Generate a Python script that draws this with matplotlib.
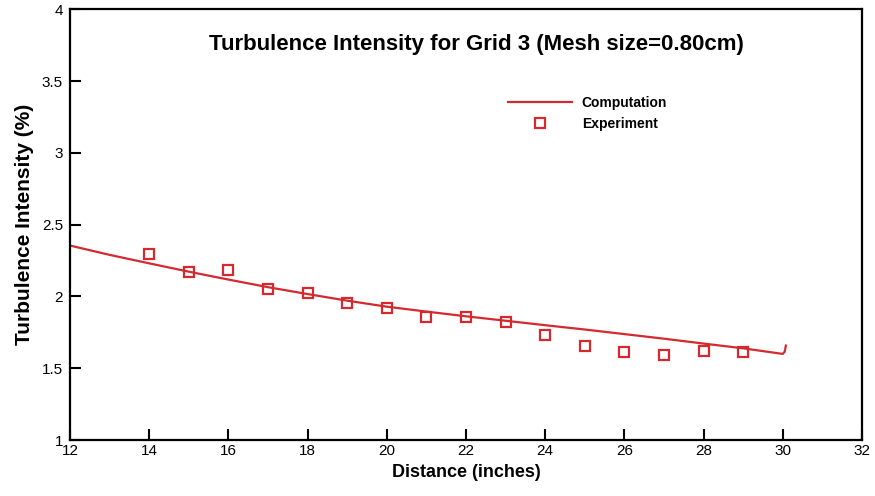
import matplotlib
matplotlib.use("Agg")
import matplotlib.pyplot as plt

plt.rcParams['font.family'] = ['Liberation Sans', 'DejaVu Sans']

# Computed turbulence intensity along the test section
comp_x = [12, 13, 14, 15, 16, 17, 18, 19, 20, 21, 22, 23, 24, 25, 26, 27, 28, 29, 30, 30.05, 30.08]
comp_y = [2.355, 2.29, 2.231, 2.173, 2.118, 2.065, 2.017, 1.971, 1.929, 1.895, 1.862, 1.831,
          1.800, 1.770, 1.738, 1.706, 1.672, 1.639, 1.600, 1.615, 1.658]

# Measured values
exp_x = [14, 15, 16, 17, 18, 19, 20, 21, 22, 23, 24, 25, 26, 27, 28, 29]
exp_y = [2.294, 2.169, 2.183, 2.050, 2.022, 1.953, 1.920, 1.859, 1.859, 1.820,
         1.732, 1.657, 1.611, 1.590, 1.620, 1.611]

xticks = [12, 14, 16, 18, 20, 22, 24, 26, 28, 30, 32]
yticks = [1, 1.5, 2, 2.5, 3, 3.5, 4]
ytick_labels = ['1', '1.5', '2', '2.5', '3', '3.5', '4']

red = '#d42a2f'

fig = plt.figure(figsize=(8.75, 4.96), dpi=100)
ax = fig.add_axes([0.08, 0.1129, 0.905, 0.868])

ax.plot(comp_x, comp_y, color=red, lw=1.6, label='Computation')
ax.plot(exp_x, exp_y, ls='none', marker='s', ms=6.5, mfc='none', mec=red, mew=1.6,
        label='Experiment')

ax.set_xlim(12, 32)
ax.set_ylim(1, 4)
ax.set_xticks(xticks)
ax.set_xticklabels([str(t) for t in xticks])
ax.set_yticks(yticks)
ax.set_yticklabels(ytick_labels)
ax.tick_params(direction='in', length=8, width=1.5, labelsize=11, color='black')
ax.tick_params(axis='x', pad=3)
ax.tick_params(axis='y', pad=5)
for s in ax.spines.values():
    s.set_linewidth(1.6)

ax.set_xlabel('Distance (inches)', fontsize=13, fontweight='bold', labelpad=4)
ax.set_ylabel('Turbulence Intensity (%)', fontsize=15, fontweight='bold', labelpad=6)

ax.text(0.513, 0.9175, 'Turbulence Intensity for Grid 3 (Mesh size=0.80cm)',
        transform=ax.transAxes, ha='center', va='center', fontsize=16, fontweight='bold')

leg = ax.legend(loc='upper left', bbox_to_anchor=(0.553, 0.799), frameon=False,
                prop={'size': 10, 'weight': 'bold'}, handlelength=4.6, handletextpad=0.72,
                labelspacing=0.5, borderaxespad=0, borderpad=0)

fig.savefig('out.png', dpi=100)
